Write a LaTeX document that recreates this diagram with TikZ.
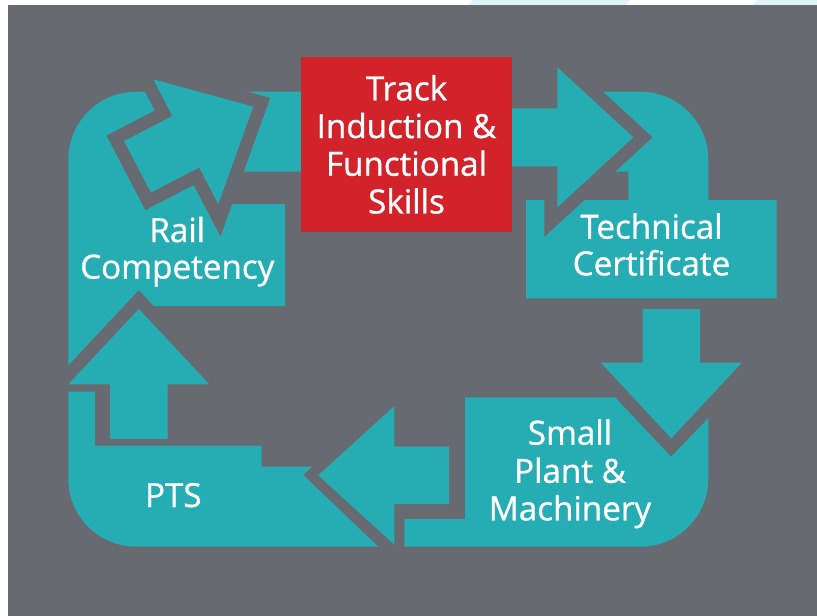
\documentclass[tikz,border=0pt]{standalone}
\usepackage{fontspec}
\setmainfont{Open Sans}
\newfontfamily\lblfont[FakeBold=0.9]{Open Sans}
\definecolor{bgray}{HTML}{686A72}
\definecolor{tealc}{HTML}{26ADB3}
\definecolor{redbox}{HTML}{D2232A}
\definecolor{stripe}{HTML}{E0F3F6}
\tikzset{
  band/.style={fill=tealc},
  gapped/.style={fill=tealc, preaction={draw=bgray, line width=26, line join=miter}},
  lbl/.style={text=white, font=\lblfont\fontsize{33.2}{38}\selectfont, anchor=base, inner sep=0pt},
}
\begin{document}
\begin{tikzpicture}[x=1pt,y=-1pt]
\useasboundingbox (0,0) rectangle (817,616);
% background
\fill[white] (0,0) rectangle (817,616);
\fill[stripe] (468,5) -- (625,5) -- (630,0) -- (473,0) -- cycle;
\fill[stripe] (752,5) -- (817,5) -- (817,0) -- (757,0) -- cycle;
\fill[bgray] (8,5) rectangle (817,616);
% region 1: top-left band and Rail Competency
\fill[band] (305,91.7) -- (136.3,91.7) .. controls (98.7,91.7) and (68.3,122.1) .. (68.3,159.7)
  -- (68.3,365.3) -- (138.8,290) -- (153.8,306) -- (285,306) -- (285,204) -- (228,204)
  -- (240,171.7) -- (305,171.7) -- cycle;
% region 2: PTS
\fill[band] (68.3,391.7) -- (95,391.7) -- (95,445.7) -- (261.7,445.7) -- (261.7,466.7)
  -- (311.7,466.7) -- (303.3,475) -- (378.3,546.7) -- (136.3,546.7)
  .. controls (98.7,546.7) and (68.3,516.3) .. (68.3,478.7) -- cycle;
% region 3: Small Plant & Machinery
\fill[band] (404.3,546.7) -- (404.3,519) -- (465,519) -- (465,397.3) -- (615,397.3)
  -- (671,456.7) -- (708.3,418.3) -- (708.3,478.7)
  .. controls (708.3,516.3) and (677.9,546.7) .. (640.3,546.7) -- cycle;
% region 4: top-right band and Technical Certificate
\fill[band] (592,91.7) -- (640.3,91.7) .. controls (677.9,91.7) and (708.3,122.1) .. (708.3,159.7)
  -- (708.3,200) -- (776.7,200) -- (776.7,298.3) -- (526,298.3) -- (526,200)
  -- (628.3,200) -- (628.3,171.7) -- (600,171.7) -- cycle;
% arrows
\path[gapped] (124.1,141.1) -- (172.4,116.0) -- (153.3,79.3) -- (253.2,106.7)
  -- (218.3,204.1) -- (199.2,167.4) -- (150.9,192.6) -- cycle;
\path[gapped] (320,108.3) -- (557.3,108.3) -- (557.3,67.3) -- (633.3,137.3)
  -- (557.3,207.3) -- (557.3,166.3) -- (320,166.3) -- cycle;
\fill[band] (642.7,309) -- (700,309) -- (700,362.7) -- (741.7,362.7) -- (671.3,438.3)
  -- (600.9,362.7) -- (642.7,362.7) -- cycle;
\fill[band] (449,446.7) -- (449,504) -- (394.3,504) -- (394.3,544.6) -- (318.3,475.35)
  -- (394.3,406.1) -- (394.3,446.7) -- cycle;
\fill[band] (110,439) -- (110,384.3) -- (68.3,384.3) -- (138.8,309) -- (209.3,384.3)
  -- (167.6,384.3) -- (167.6,439) -- cycle;
% red box
\fill[redbox] (301,57) rectangle (512,231.7);
% labels
\node[lbl] (t1) at (406.5,100.3) {Track};
\node[lbl] (t2) at (406.5,138) {Induction \&};
\node[lbl] (t3) at (406.5,175.7) {Functional};
\node[lbl] (t4) at (406.5,213.4) {Skills};
\node[lbl] (r1) at (177.3,242) {Rail};
\node[lbl] (r2) at (177.3,278.6) {Competency};
\node[lbl] (c1) at (651.5,238.6) {Technical};
\node[lbl] (c2) at (651.5,275.3) {Certificate};
\node[lbl] (s1) at (570,444.6) {Small};
\node[lbl] (s2) at (570,482.8) {Plant \&};
\node[lbl] (s3) at (570,520.3) {Machinery};
\node[lbl] (p1) at (173.3,507) {PTS};
\end{tikzpicture}
\end{document}
